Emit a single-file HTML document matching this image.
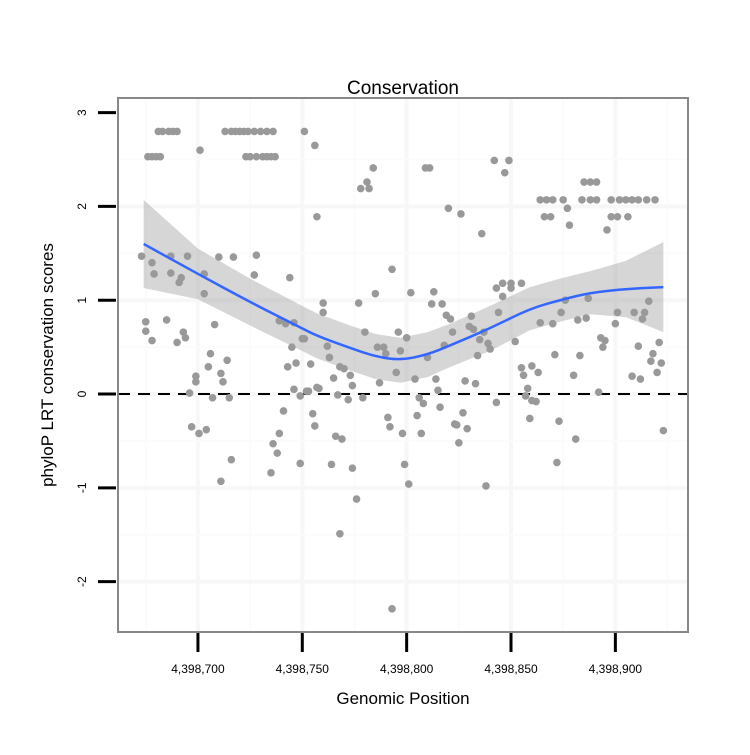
<!DOCTYPE html>
<html><head><meta charset="utf-8"><style>
body{margin:0;background:#fff;}
svg text{font-family:"Liberation Sans",sans-serif;}
</style></head><body>
<svg id="chart" width="750" height="750" xmlns="http://www.w3.org/2000/svg">
<rect width="750" height="750" fill="#fff"/>
<text x="403" y="94" font-size="19" text-anchor="middle">Conservation</text>
<text transform="translate(53,365) rotate(-90)" font-size="17" text-anchor="middle">phyloP LRT conservation scores</text>
<text x="403" y="704" font-size="17" text-anchor="middle">Genomic Position</text>
<g id="grid"></g><g id="band"></g><g id="pts"></g><g id="ln"></g><g id="axes"></g>
<rect x="118" y="98" width="570" height="534" fill="none" stroke="#888" stroke-width="2"/>
</svg>
<script>
const BASE=4398700;
const xTicks=[0,50,100,150,200];
const xTickLabels=["4,398,700","4,398,750","4,398,800","4,398,850","4,398,900"];
const yTicks=[3,2,1,0,-1,-2];
const yTickLabels=["3","2","1","0","-1","-2"];
const px=[-19,-17,-14,-12,-10,13,16,18,20,22,24,27,30,33,36,51,-24,-22,-20,-18,23,25,28,31,33,35,37,1,56,
-27,-22,-21,-13,-13,-9,-8,-5,3,3,10,17,28,27,44,-25,-25,-22,-15,-7,-6,-10,8,39,42,46,50,45,6,14,5,-1,-1,11,12,-4,7,15,47,54,43,46,49,53,57,41,55,56,-3,0.5,4,39,36,38,16,11,35,49,57,
84,81,78,82,109,111,142,120,126,136,93,85,102,113,112,117,77,60,60,143,144,119,121,131,130,132,137,122,80,96,100,51,62,86,89,90,97,118,110,135,139,140,134,63,68,70,73,65,95,104,114,128,133,87,74,58,52,67,72,79,115,106,108,116,143,91,92,105,127,123,124,129,98,107,66,69,125,64,74,99,101,138,76,68,93,
149,147,185,188,191,164,167,170,175,184,188,191,198,202,205,208,211,215,219,177,166,169,198,201,206,178,196,146,150,155,150,146,176,187,216,174,201,209,214,164,170,182,186,213,200,152,193,195,194,221,211,171,183,218,217,222,155,156,160,163,180,208,212,220,158,157,160,162,192,159,173,181,223,172];
const py=[2.8,2.8,2.8,2.8,2.8,2.8,2.8,2.8,2.8,2.8,2.8,2.8,2.8,2.8,2.8,2.8,2.53,2.53,2.53,2.53,2.53,2.53,2.53,2.53,2.53,2.53,2.53,2.6,2.65,
1.47,1.40,1.28,1.47,1.29,1.19,1.24,1.47,1.28,1.07,1.46,1.46,1.48,1.27,1.24,0.77,0.67,0.57,0.79,0.66,0.60,0.55,0.74,0.78,0.75,0.76,0.59,0.50,0.43,0.36,0.29,0.19,0.13,0.22,0.13,0.01,-0.04,-0.04,0.33,0.32,0.29,0.05,-0.02,0.03,0.07,-0.18,-0.21,-0.34,-0.35,-0.42,-0.38,-0.42,-0.53,-0.63,-0.70,-0.93,-0.84,-0.74,1.89,
2.41,2.26,2.19,2.19,2.41,2.41,2.49,1.98,1.92,1.71,1.33,1.07,1.08,1.09,0.96,0.96,0.97,0.97,0.87,1.13,0.87,0.84,0.80,0.83,0.72,0.69,0.66,0.66,0.66,0.66,0.60,0.59,0.51,0.50,0.50,0.43,0.46,0.52,0.39,0.58,0.54,0.48,0.41,0.39,0.29,0.27,0.20,0.17,0.23,0.16,0.16,0.14,0.11,0.12,0.09,0.06,0.03,-0.01,-0.06,-0.04,0.04,-0.04,-0.10,-0.14,-0.09,-0.25,-0.35,-0.23,-0.20,-0.32,-0.33,-0.37,-0.42,-0.42,-0.45,-0.48,-0.52,-0.75,-0.79,-0.75,-0.96,-0.98,-1.12,-1.49,-2.29,
2.49,2.36,2.26,2.26,2.26,2.07,2.07,2.07,2.07,2.07,2.07,2.07,2.07,2.07,2.07,2.07,2.07,2.07,2.07,1.98,1.89,1.89,1.89,1.89,1.89,1.80,1.75,1.18,1.18,1.18,1.13,1.04,1.00,1.02,0.99,0.87,0.87,0.87,0.87,0.76,0.75,0.79,0.81,0.80,0.75,0.56,0.60,0.57,0.50,0.55,0.51,0.42,0.41,0.43,0.35,0.33,0.28,0.20,0.30,0.23,0.20,0.19,0.16,0.23,0.06,-0.02,-0.07,-0.08,0.02,-0.26,-0.29,-0.48,-0.39,-0.73];
const fitX=[-26,0,25,49,57,73,85,97,110,121,140,159,175,188,205,223];
const fitY=[1.60,1.28,0.98,0.71,0.62,0.49,0.40,0.36,0.42,0.52,0.70,0.91,1.01,1.08,1.12,1.14];
const fitSe=[0.47,0.27,0.25,0.24,0.24,0.24,0.24,0.24,0.24,0.23,0.24,0.23,0.23,0.23,0.30,0.48];
const X0=118,X1=688,Y0=98,Y1=632,xmin=-38.3,xmax=234.8,ymin=-2.537,ymax=3.156;
function sx(v){return X0+(v-xmin)/(xmax-xmin)*(X1-X0);}
function sy(v){return Y1-(v-ymin)/(ymax-ymin)*(Y1-Y0);}
const NS="http://www.w3.org/2000/svg";
function mk(t,a,p){const e=document.createElementNS(NS,t);for(const k in a)e.setAttribute(k,a[k]);p.appendChild(e);return e;}
const grid=document.getElementById('grid'),axes=document.getElementById('axes');
const gx=[-25,0,25,50,75,100,125,150,175,200,225],gy=[2.5,2,1.5,1,0.5,0,-0.5,-1,-1.5,-2];
gx.forEach(v=>{const e=mk('line',{x1:sx(v),x2:sx(v),y1:Y0,y2:Y1,stroke:v%50===0?'#f7f7f7':'#fbfbfb','stroke-width':v%50===0?4:2},grid);

});
gy.forEach(v=>{const e=mk('line',{x1:X0,x2:X1,y1:sy(v),y2:sy(v),stroke:Number.isInteger(v)?'#f7f7f7':'#fbfbfb','stroke-width':Number.isInteger(v)?4:2},grid);

});
const z=mk('line',{x1:X0,x2:X1,y1:sy(0),y2:sy(0),stroke:'#000','stroke-width':2,'stroke-dasharray':'12,8'},grid);


let up=fitX.map((x,i)=>sx(x)+','+sy(fitY[i]+fitSe[i]));
let lo=fitX.map((x,i)=>sx(x)+','+sy(fitY[i]-fitSe[i])).reverse();
const band=mk('polygon',{points:up.concat(lo).join(' '),fill:'#999','fill-opacity':0.4},document.getElementById('band'));


const pts=document.getElementById('pts');
px.forEach((x,i)=>{const c=mk('circle',{cx:sx(x),cy:sy(py[i]),r:3.8,fill:'#999'},pts);

});
let d='';
for(let i=0;i<fitX.length;i++){const x=sx(fitX[i]),y=sy(fitY[i]);
if(i===0)d='M'+x+','+y;else{const xp=sx(fitX[i-1]),yp=sy(fitY[i-1]);d+=' Q'+xp+','+yp+' '+(xp+x)/2+','+(yp+y)/2;}}
d+=' L'+sx(fitX[fitX.length-1])+','+sy(fitY[fitY.length-1]);
const ln=mk('path',{d:d,fill:'none',stroke:'#3366ff','stroke-width':2.5},document.getElementById('ln'));


xTicks.forEach((v,i)=>{const t=mk('line',{x1:sx(v),x2:sx(v),y1:632,y2:652,stroke:'#000','stroke-width':3},axes);


const l=mk('text',{x:sx(v),y:673,'font-size':12,'text-anchor':'middle'},axes);l.textContent=xTickLabels[i];

});
yTicks.forEach((v,i)=>{const t=mk('line',{x1:98,x2:116,y1:sy(v),y2:sy(v),stroke:'#000','stroke-width':3},axes);


const l=mk('text',{transform:'translate(86,'+sy(v)+') rotate(-90)','font-size':12,'text-anchor':'middle'},axes);l.textContent=yTickLabels[i];

});
</script>
</body></html>
